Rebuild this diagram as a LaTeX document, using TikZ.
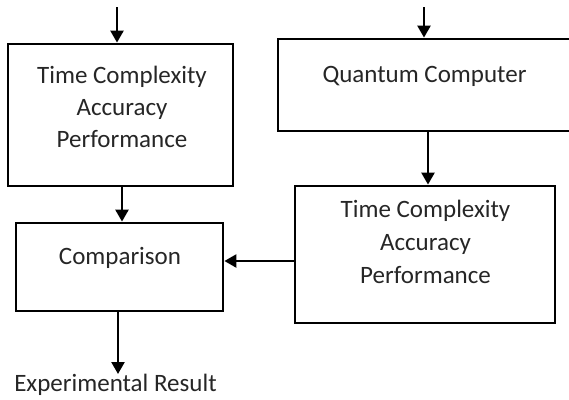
\documentclass[tikz,border=0pt]{standalone}
\usepackage{fontspec}
\setmainfont{Carlito}
\usetikzlibrary{arrows.meta}
\begin{document}
\begin{tikzpicture}[x=1pt,y=-1pt,
  box/.style={draw=black, line width=2.8pt, rectangle, inner sep=0pt},
  lbl/.style={inner sep=0pt, anchor=base, align=center, text=black!85,
    font=\fontsize{25}{32}\selectfont},
  flow/.style={draw=black, line width=2.4pt, -{Triangle[width=13pt,length=12pt]}}]
  \useasboundingbox (0,0) rectangle (569,399);
  \clip (0,0) rectangle (569,399);
  % boxes
  \node[box, minimum width=225pt, minimum height=142pt] (tca) at (120.5,115) {};
  \node[box, minimum width=300pt, minimum height=92pt] (qc) at (428,85) {};
  \node[box, minimum width=260pt, minimum height=137pt] (tcb) at (425,254.5) {};
  \node[box, minimum width=207pt, minimum height=88pt] (cmp) at (119.5,267) {};
  % texts (anchored at the baseline of the last line)
  \node[lbl] (tcat) at (122,147) {Time Complexity\\Accuracy\\Performance};
  \node[lbl] (qct) at (424.5,82) {Quantum Computer};
  \node[lbl, font=\fontsize{25}{33}\selectfont] (tcbt) at (425.5,283) {Time Complexity\\Accuracy\\Performance};
  \node[lbl] (cmpt) at (120,264) {Comparison};
  \node[lbl] (res) at (115.5,391) {Experimental Result};
  % incoming ends
  \coordinate (ina) at (117,7);
  \coordinate (inq) at (424,7);
  % connectors
  \draw[flow] (ina) -- (ina |- tca.north);
  \draw[flow] (inq) -- (inq |- qc.north);
  \draw[flow] (428,131) coordinate (qb) -- (qb |- tcb.north);
  \draw[flow] (122,186) coordinate (ab) -- (ab |- cmp.north);
  \draw[flow] (tcb.west |- 0,261) coordinate (bw) -- (bw -| cmp.east);
  \draw[flow] (118,311) coordinate (cb) -- (118,374);
\end{tikzpicture}
\end{document}
